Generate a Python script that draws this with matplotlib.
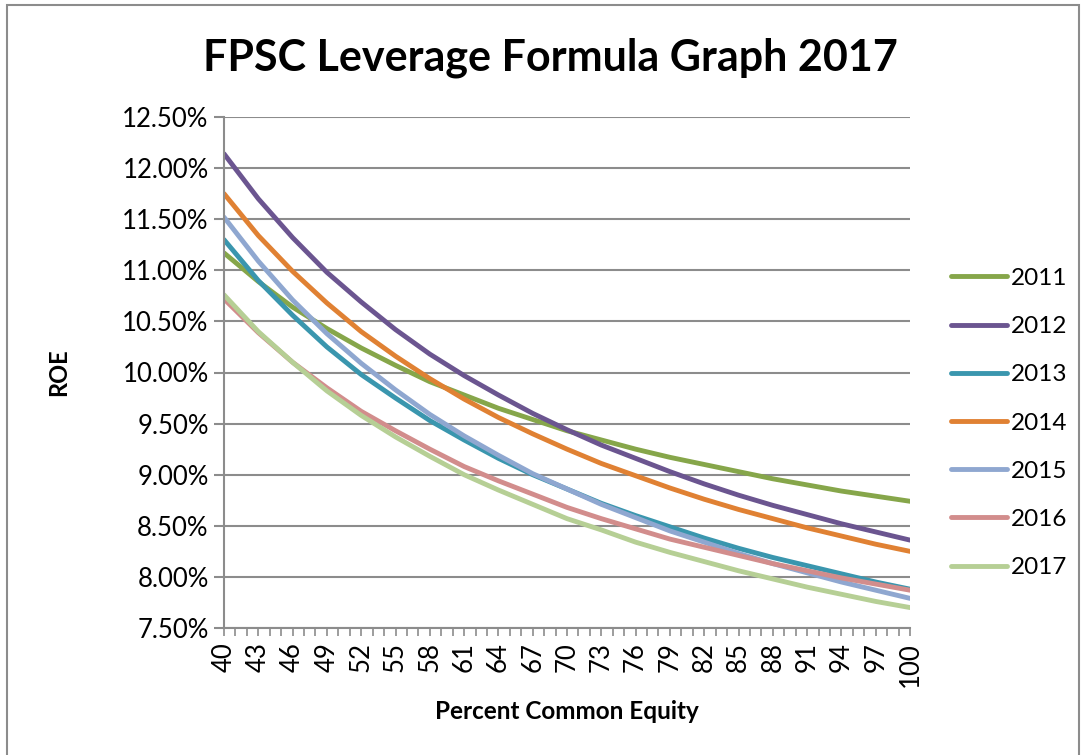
import matplotlib
matplotlib.use("Agg")
import matplotlib.pyplot as plt
from matplotlib.ticker import MultipleLocator, FixedLocator, FuncFormatter
from matplotlib.patches import Rectangle

equity = [40, 43, 46, 49, 52, 55, 58, 61, 64, 67, 70, 73, 76, 79, 82, 85, 88, 91, 94, 97, 100]

roe_2011 = [11.17, 10.89, 10.64, 10.43, 10.24, 10.07, 9.91, 9.78, 9.65, 9.54, 9.43,
            9.34, 9.25, 9.17, 9.10, 9.03, 8.96, 8.90, 8.84, 8.79, 8.74]
roe_2012 = [12.14, 11.70, 11.32, 10.98, 10.69, 10.42, 10.18, 9.97, 9.78, 9.60, 9.44,
            9.29, 9.16, 9.03, 8.91, 8.80, 8.70, 8.61, 8.52, 8.44, 8.36]
roe_2013 = [11.30, 10.90, 10.56, 10.25, 9.98, 9.75, 9.53, 9.34, 9.16, 9.00, 8.86,
            8.72, 8.60, 8.49, 8.38, 8.28, 8.19, 8.11, 8.03, 7.95, 7.88]
roe_2014 = [11.75, 11.34, 10.99, 10.68, 10.40, 10.16, 9.94, 9.74, 9.56, 9.40, 9.25,
            9.11, 8.99, 8.87, 8.76, 8.66, 8.57, 8.48, 8.40, 8.32, 8.25]
roe_2015 = [11.52, 11.09, 10.71, 10.38, 10.09, 9.83, 9.59, 9.38, 9.19, 9.01, 8.86,
            8.71, 8.58, 8.45, 8.34, 8.23, 8.13, 8.04, 7.95, 7.87, 7.79]
roe_2016 = [10.72, 10.39, 10.10, 9.85, 9.62, 9.43, 9.25, 9.08, 8.94, 8.81, 8.68,
            8.57, 8.47, 8.37, 8.29, 8.21, 8.13, 8.06, 7.99, 7.93, 7.87]
roe_2017 = [10.76, 10.40, 10.10, 9.82, 9.58, 9.37, 9.18, 9.00, 8.85, 8.71, 8.57,
            8.46, 8.34, 8.24, 8.15, 8.06, 7.98, 7.90, 7.83, 7.76, 7.70]

series = {
    "2011": roe_2011, "2012": roe_2012, "2013": roe_2013, "2014": roe_2014,
    "2015": roe_2015, "2016": roe_2016, "2017": roe_2017,
}
colors = {
    "2011": "#86A64A", "2012": "#6B5590", "2013": "#3A96AE", "2014": "#E08133",
    "2015": "#8FA7D0", "2016": "#D28D8C", "2017": "#B6CF95",
}

plt.rcParams['font.family'] = ['Lato', 'DejaVu Sans']

W, H = 1082, 755
fig = plt.figure(figsize=(W / 100, H / 100), dpi=100)
fig.patch.set_facecolor("white")

# outer chart border
fig.add_artist(Rectangle((7 / W, -0.01), (1079 - 7) / W, 1 - 5 / H + 0.01,
                         transform=fig.transFigure, fill=False,
                         edgecolor="#8C8C8C", linewidth=1.5))

ax = fig.add_axes([224 / W, (H - 628) / H, (910 - 224) / W, (628 - 117) / H])

for name, vals in series.items():
    ax.plot(equity, vals, color=colors[name], linewidth=3.5, label=name,
            solid_capstyle="round", solid_joinstyle="round")

ax.set_xlim(40, 100)
ax.set_ylim(7.5, 12.5)
ax.yaxis.set_major_locator(MultipleLocator(0.5))
ax.yaxis.set_major_formatter(FuncFormatter(lambda v, p: f"{v:.2f}%"))
ax.xaxis.set_major_locator(FixedLocator(equity))
ax.xaxis.set_minor_locator(MultipleLocator(1))
ax.xaxis.set_major_formatter(FuncFormatter(lambda v, p: f"{int(round(v))}"))

ax.grid(axis="y", color="#8C8C8C", linewidth=1.5)
ax.set_axisbelow(True)
for s in ["top", "right"]:
    ax.spines[s].set_visible(False)
for s in ["left", "bottom"]:
    ax.spines[s].set_color("#8C8C8C")
    ax.spines[s].set_linewidth(1.5)

ax.tick_params(axis="y", which="major", length=7, width=1.5, color="#8C8C8C",
               labelsize=18.5, pad=4)
ax.tick_params(axis="x", which="both", length=6, width=1.2, color="#8C8C8C",
               labelsize=18.5, labelrotation=90, pad=4)

ax.set_ylabel("ROE", fontsize=17, fontweight="bold")
ax.yaxis.set_label_coords((70 - 224) / 686, 0.5)
ax.set_xlabel("Percent Common Equity", fontsize=17.5, fontweight="bold")
ax.xaxis.set_label_coords(0.5, (628 - 700) / 511)

fig.text(550 / W, 1 - 58 / H, "FPSC Leverage Formula Graph 2017",
         ha="center", va="center", fontsize=31, fontweight="bold")

leg = ax.legend(loc="center left", bbox_to_anchor=((951 - 224) / 686, (628 - 423) / 511),
                frameon=False, fontsize=17.5, handlelength=2.3, handletextpad=0.18,
                labelspacing=1.12, borderaxespad=0, borderpad=0)
for line in leg.get_lines():
    line.set_linewidth(3.5)

fig.savefig("out.png", dpi=100)
